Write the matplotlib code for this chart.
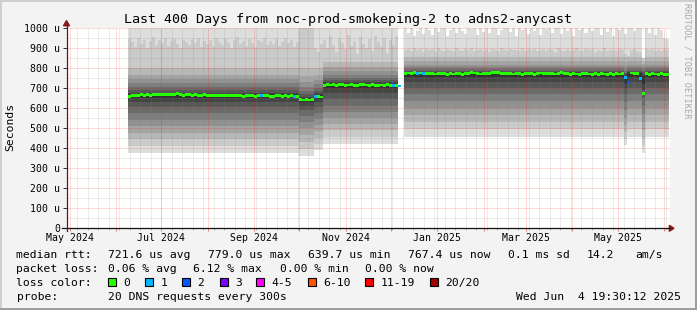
#!/usr/bin/env python3
"""
SmokePing style 400 day graph, noc-prod-smokeping-2 -> adns2-anycast
"""

import numpy as np
import matplotlib
matplotlib.use('Agg')
import matplotlib.pyplot as plt
import matplotlib.dates as mdates
from matplotlib.lines import Line2D
from matplotlib.patches import Rectangle, Polygon

W, H = 697, 310
MONO = 'DejaVu Sans Mono'

# graph window
graph_end = '2025-06-04T19:30:12'
graph_days = 400

# one sample every 2 days starting here
sample_start = '2024-06-09'
sample_step = 2

# median rtt (us) per sample
median_a = [658, 660, 662, 661, 665, 663, 666, 664, 667, 665,
            668, 666, 669, 667, 665, 668, 670, 667, 664, 666,
            665, 663, 666, 664, 662, 665, 663, 661, 664, 662,
            660, 663, 661, 664, 662, 660, 663, 661, 659, 662,
            664, 661, 659, 662, 660, 663, 661, 659, 657, 660,
            662, 659, 661, 658, 660, 657, 659]
median_b = [641, 640, 642, 640, 641]
median_c = [656, 658, 655]
median_d = [712, 716, 714, 718, 713, 715, 717, 712, 714, 716,
            713, 711, 715, 717, 714, 712, 716, 713, 711, 714,
            712, 715, 713, 710, 712, 709]
median_gap = [np.nan]
median_f = [772, 774, 773, 775, 772, 774, 771, 773, 770, 772,
            769, 771, 773, 770, 768, 771, 769, 772, 770, 768,
            771, 773, 776, 774, 771, 769, 772, 770, 773, 775,
            778, 775, 772, 770, 773, 771, 769, 772, 770, 768,
            771, 773, 770, 768, 771, 774, 772, 770, 773, 771,
            769, 772, 775, 773, 770, 768, 771, 769, 767, 770,
            772, 769, 767, 770, 768, 771, 769, 767, 770, 768,
            771, 769, 772, 750, 726, 774, 772, 770, 745, 673,
            770, 768, 771, 769, 767, 770, 768, 767]
median_us = median_a + median_b + median_c + median_d + median_gap + median_f

# samples with lost pings (out of 20)
loss_idx = [44, 55, 62, 88, 90, 96, 98, 165, 166, 170]
loss_cnt = [1, 1, 1, 1, 1, 1, 1, 1, 2, 1]

# 19th and 20th sorted ping (us) per sample, 1050 = off the top
p19_a = [945, 930, 905, 950, 920, 940, 900, 935, 955, 915,
         940, 925, 950, 910, 935, 945, 920, 900, 940, 930,
         915, 945, 925, 950, 905, 935, 920, 940, 910, 950,
         930, 915, 945, 925, 900, 940, 955, 920, 935, 910,
         945, 925, 905, 940, 930, 950, 915, 935, 920, 945,
         910, 930, 950, 925, 940, 905, 930]
p19_b = [1050, 1050, 1050, 1050, 1050]
p19_c = [900, 880, 920]
p19_d = [940, 900, 960, 915, 880, 950, 925, 895, 965, 910,
         935, 870, 955, 920, 900, 945, 885, 960, 930, 905,
         950, 875, 940, 915, 960, 895]
p19_f = [890, 895, 885, 900, 888, 892, 880, 896, 887, 893,
         884, 898, 890, 886, 894, 889, 882, 897, 891, 885,
         893, 887, 900, 884, 890, 895, 886, 892, 881, 896,
         889, 885, 898, 890, 883, 894, 888, 891, 886, 899,
         884, 892, 887, 895, 882, 890, 896, 885, 893, 888,
         881, 897, 889, 886, 894, 883, 891, 898, 887, 884,
         892, 888, 895, 880, 890, 886, 897, 884, 891, 889,
         885, 893, 888, 870, 860, 890, 895, 886, 880, 850,
         892, 887, 895, 884, 890, 886, 893, 888]
p19_us = p19_a + p19_b + p19_c + p19_d + [np.nan] + p19_f

p20_f = [1050, 975, 1050, 960, 985, 1050, 970, 1050, 990, 965,
         1050, 980, 1050, 1050, 958, 990, 1050, 972, 1050, 985,
         968, 1050, 995, 1050, 962, 1050, 980, 1050, 975, 1050,
         1050, 965, 990, 1050, 1050, 978, 1050, 960, 1050, 988,
         1050, 970, 1050, 985, 1050, 963, 1050, 992, 1050, 975,
         1050, 1050, 968, 1050, 982, 1050, 958, 1050, 990, 1050,
         972, 1050, 985, 1050, 1050, 965, 1050, 978, 1050, 960,
         1050, 988, 1050, 970, 1050, 1050, 982, 1050, 1050, 830,
         1050, 975, 1050, 962, 1050, 990, 950, 945]
p20_us = [1050] * 91 + [np.nan] + p20_f

# sorted pings 1..18 (us) for each stretch of time
regime_start = ['2024-06-09', '2024-10-01', '2024-10-10', '2024-10-17', '2024-12-10',
                '2025-05-05', '2025-05-07', '2025-05-17', '2025-05-19']
regime_end = ['2024-10-01', '2024-10-10', '2024-10-17', '2024-12-08', '2025-05-05',
              '2025-05-07', '2025-05-17', '2025-05-19', '2025-06-05']
regime_pings = [
    [374, 410, 444, 477, 510, 540, 573, 605, 630, 648, 668, 676, 689, 705, 722, 742, 765, 800],
    [362, 395, 430, 465, 500, 530, 560, 590, 612, 630, 648, 656, 668, 685, 705, 730, 760, 800],
    [390, 420, 452, 484, 515, 545, 575, 605, 630, 646, 664, 672, 685, 700, 718, 738, 762, 800],
    [422, 455, 488, 520, 550, 580, 612, 645, 675, 698, 720, 727, 737, 750, 765, 785, 805, 830],
    [455, 493, 530, 565, 600, 635, 668, 700, 728, 752, 776, 780, 786, 793, 802, 814, 832, 856],
    [415, 445, 480, 515, 550, 590, 630, 670, 700, 725, 760, 768, 776, 785, 796, 810, 828, 852],
    [455, 493, 530, 565, 600, 635, 668, 700, 728, 752, 776, 780, 786, 793, 802, 814, 832, 856],
    [375, 410, 450, 490, 530, 570, 610, 650, 690, 720, 760, 770, 780, 790, 800, 810, 820, 835],
    [455, 493, 530, 565, 600, 635, 668, 700, 728, 752, 776, 780, 786, 793, 802, 814, 832, 856],
]

y_ticks = [0, 100, 200, 300, 400, 500, 600, 700, 800, 900, 1000]
y_labels = ['0', '100 u', '200 u', '300 u', '400 u', '500 u', '600 u', '700 u',
            '800 u', '900 u', '1000 u']

loss_labels = ['0', '1', '2', '3', '4-5', '6-10', '11-19', '20/20']
loss_upper = [0, 1, 2, 3, 5, 10, 19, 20]
loss_colors = ['#26ff00', '#00b8ff', '#0059ff', '#7e00ff', '#ff00ff', '#ff5500',
               '#ff0000', '#a10000']


def fx(px):
    return px / W


def fy(py):
    return 1 - py / H


def dnum(s):
    return mdates.date2num(np.datetime64(s))


# ---- build per sample matrix of the 20 pings
n = len(median_us)
t0 = dnum(sample_start)
xs = t0 + sample_step * np.arange(n)
edges = t0 + sample_step * np.arange(n + 1)

pings = np.full((20, n), np.nan)
rs = [dnum(s) for s in regime_start]
re_ = [dnum(s) for s in regime_end]
for k in range(n):
    for r in range(len(rs)):
        if rs[r] <= xs[k] < re_[r]:
            pings[:18, k] = regime_pings[r]
pings[18] = np.array(p19_us, dtype=float)
pings[19] = np.array(p20_us, dtype=float)
pings[:, np.isnan(np.array(median_us, dtype=float))] = np.nan

fig = plt.figure(figsize=(W / 100, H / 100), dpi=100)
fig.patch.set_facecolor('#f3f3f3')

ax_l, ax_r, ax_t, ax_b = 66.5, 669.8, 27.7, 228.3
ax = fig.add_axes([fx(ax_l), fy(ax_b), fx(ax_r - ax_l), (ax_b - ax_t) / H])
ax.set_facecolor('white')
x_end = dnum(graph_end)
ax.set_xlim(x_end - graph_days, x_end)
ax.set_ylim(0, 1000)

# smoke: outer pair lightest, inner pair darkest
half = 10
for ibot in range(1, half + 1):
    g = int(190 / half * (half - ibot)) + 50
    col = '#%02x%02x%02x' % (g, g, g)
    lo = pings[ibot - 1]
    hi = pings[20 - ibot]
    ax.fill_between(edges, np.append(lo, lo[-1]), np.append(hi, hi[-1]),
                    step='post', color=col, linewidth=0, zorder=2)

# grid on top of the smoke, 1px dotted
months = np.arange(np.datetime64('2024-05'), np.datetime64('2025-07'))
weeks = np.arange(np.datetime64('2024-04-29'), np.datetime64('2025-06-05'),
                  np.timedelta64(7, 'D'))
minor_c = (0.5, 0.5, 0.5, 0.3)
major_c = (1.0, 0.0, 0.0, 0.3)
grid_kw = dict(lw=0.72, ls=(0, (1, 1)), zorder=3)
for w in weeks:
    ax.axvline(dnum(w), color=minor_c, **grid_kw)
for v in range(50, 1000, 100):
    ax.axhline(v, color=minor_c, **grid_kw)
for m in months:
    ax.axvline(dnum(m), color=major_c, **grid_kw)
for v in y_ticks[1:]:
    ax.axhline(v, color=major_c, **grid_kw)

# median, coloured by loss
loss = np.zeros(n, dtype=int)
loss[loss_idx] = loss_cnt
med = np.array(median_us, dtype=float)
cols = []
for c in loss:
    for up, lc in zip(loss_upper, loss_colors):
        if c <= up:
            cols.append(lc)
            break
ok = ~np.isnan(med)
sw = 7.0
ax.bar(xs[ok], 2 * sw, bottom=med[ok] - sw, width=sample_step, align='edge',
       color=np.array(cols)[ok], linewidth=0, zorder=4)

# ticks and labels
for s in ax.spines.values():
    s.set_visible(False)
ax.set_yticks(y_ticks)
ax.set_yticklabels(y_labels, family=MONO, fontsize=7.1)
ax.tick_params(axis='y', length=2.9, width=0.72, color='#333333', pad=1.8)
month_pos = [dnum(m) for m in months]
month_lab = []
for m in months:
    mm = int(str(m)[5:7])
    if mm % 2 == 1:
        month_lab.append(m.astype('datetime64[D]').item().strftime('%b %Y'))
    else:
        month_lab.append('')
ax.set_xticks(month_pos)
ax.set_xticklabels(month_lab, family=MONO, fontsize=7.1)
ax.set_xticks([dnum(w) for w in weeks], minor=True)
ax.tick_params(axis='x', which='major', length=2.2, width=0.72, color='#e08080', pad=1.2)
ax.tick_params(axis='x', which='minor', length=1.4, width=0.72, color='#b0b0b0')

# axes with arrows
fig.add_artist(Line2D([fx(61.7), fx(670)], [fy(ax_b), fy(ax_b)], color='#111111',
                      lw=0.9, transform=fig.transFigure))
fig.add_artist(Line2D([fx(ax_l), fx(ax_l)], [fy(231), fy(25)], color='#5a1a1a',
                      lw=0.9, transform=fig.transFigure))
fig.add_artist(Polygon([[fx(669.3), fy(225.3)], [fx(674), fy(ax_b)], [fx(669.3), fy(231.3)]],
                       closed=True, color='#8b1a1a', transform=fig.transFigure))
fig.add_artist(Polygon([[fx(63.5), fy(25.8)], [fx(ax_l), fy(20.6)], [fx(69.5), fy(25.8)]],
                       closed=True, color='#8b1a1a', transform=fig.transFigure))

# titles
fig.text(fx(348.5), fy(19.3), 'Last 400 Days from noc-prod-smokeping-2 to adns2-anycast',
         family=MONO, fontsize=9.6, ha='center', va='center')
fig.text(fx(10), fy(127), 'Seconds', family=MONO, fontsize=8.2, rotation=90,
         ha='center', va='center')
fig.text(fx(687.5), fy(61), 'RRDTOOL / TOBI OETIKER', family=MONO, fontsize=6.2,
         rotation=270, ha='center', va='center', color='#a8a8a8')


def put(x, yc, s, ha='left'):
    fig.text(fx(x), fy(yc + 4.1), s, family=MONO, fontsize=8.2, ha=ha, va='baseline')


rows = [254.3, 268.3, 282.3, 296.3]
put(16.5, rows[0], 'median rtt:')
for x, s in [(107.6, '721.6 us avg'), (207.6, '779.0 us max'), (307.6, '639.7 us min'),
             (407.6, '767.4 us now'), (508, '0.1 ms sd'), (587, '14.2'), (635.6, 'am/s')]:
    put(x, rows[0], s)
put(16.5, rows[1], 'packet loss:')
for x, s in [(107.6, '0.06 % avg'), (193.3, '6.12 % max'), (279.6, '0.00 % min'),
             (365.3, '0.00 % now')]:
    put(x, rows[1], s)
put(16.5, rows[2], 'loss color:')
box_x = [108.4, 145.3, 182.2, 219.6, 256.4, 307.6, 365.3, 430.2]
for bx, lab, lc in zip(box_x, loss_labels, loss_colors):
    fig.add_artist(Rectangle((fx(bx), fy(rows[2] + 4)), 8 / W, 8 / H, facecolor=lc,
                             edgecolor='black', lw=0.8, transform=fig.transFigure))
    put(bx + 15.2, rows[2], lab)
put(16.5, rows[3], 'probe:')
put(107.6, rows[3], '20 DNS requests every 300s')
put(681, rows[3], 'Wed Jun  4 19:30:12 2025', ha='right')

# border shading
for (x0, y0, w, h, c) in [(0, 0, W, 2, '#cfcfcf'), (0, 0, 2, H, '#cfcfcf'),
                          (0, H - 2, W, 2, '#9e9e9e'), (W - 2.5, 0, 2.5, H, '#9e9e9e')]:
    fig.add_artist(Rectangle((fx(x0), fy(y0 + h)), w / W, h / H, facecolor=c,
                             edgecolor='none', transform=fig.transFigure))

plt.savefig('out.png', dpi=100, facecolor=fig.get_facecolor())
print("Saved: out.png")
